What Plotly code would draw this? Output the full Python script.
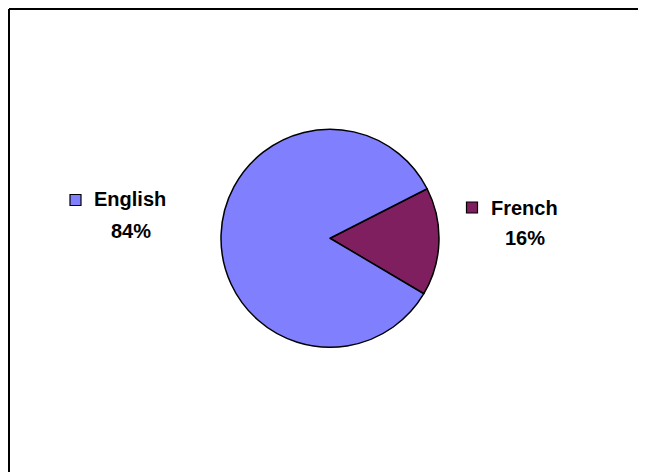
import plotly.graph_objects as go

categories = ["French", "English"]
values = [16, 84]
colors = ["#7F1F5F", "#8080FF"]
pct_labels = ["16%", "84%"]

# page body has an 8px margin; figure sized to fit the window
OFF = 8
W, H = 638, 464

def px(x):
    return (x - OFF) / W

def py(y):
    return 1 - (y - OFF) / H

fig = go.Figure()
fig.add_trace(go.Pie(
    labels=categories,
    values=values,
    marker=dict(colors=colors, line=dict(color="black", width=1.5)),
    sort=False,
    direction="clockwise",
    rotation=63,
    textinfo="none",
    hoverinfo="label+percent",
    showlegend=False,
    domain=dict(x=[px(221), px(439)], y=[py(347.5), py(129)]),
))

font = dict(family="Liberation Sans, Arial, sans-serif", size=20, color="black")

# label positions (screen pixel centres): name x,y ; pct x,y ; key square x,y
label_pos = {"English": (130, 199, 130.5, 230.5, 75.5, 200),
             "French": (524.5, 208, 524.5, 238, 472, 207.5)}
for cat, col, pct in zip(categories, colors, pct_labels):
    lx, ly, vx, vy, sx, sy = label_pos[cat]
    fig.add_annotation(x=px(lx), y=py(ly), xref="paper", yref="paper",
                       text="<b>" + cat + "</b>", showarrow=False, font=font,
                       xanchor="center", yanchor="middle")
    fig.add_annotation(x=px(vx), y=py(vy), xref="paper", yref="paper",
                       text="<b>" + pct + "</b>", showarrow=False, font=font,
                       xanchor="center", yanchor="middle")
    fig.add_shape(type="rect", xref="paper", yref="paper",
                  x0=px(sx - 5.5), x1=px(sx + 5.5), y0=py(sy + 5.5), y1=py(sy - 5.5),
                  fillcolor=col, line=dict(color="black", width=1.2))

# chart frame (top and left edges visible)
fig.add_shape(type="line", xref="paper", yref="paper", x0=px(9), x1=1, y0=py(9), y1=py(9),
              line=dict(color="black", width=2))
fig.add_shape(type="line", xref="paper", yref="paper", x0=px(9), x1=px(9), y0=py(9), y1=0,
              line=dict(color="black", width=2))

fig.update_layout(width=W, height=H, margin=dict(l=0, r=0, t=0, b=0),
                  paper_bgcolor="white", plot_bgcolor="white")
fig.write_html("out.html")
